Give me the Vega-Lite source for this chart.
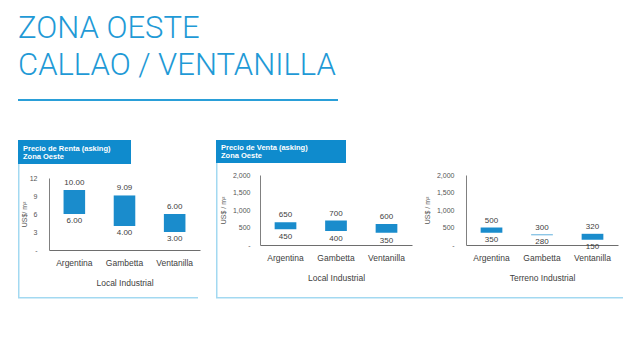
{
  "$schema": "https://vega.github.io/schema/vega-lite/v6.json",
  "padding": {"left": 18, "top": 13, "right": 5, "bottom": 5},
  "background": "white",
  "config": {
    "font": "Liberation Sans",
    "view": {"stroke": null},
    "axis": {"ticks": false, "tickSize": 0, "grid": false, "labelOverlap": false, "domainColor": "#808080", "labelFont": "Liberation Sans", "titleFont": "Liberation Sans", "titleFontWeight": "normal"}
  },
  "datasets": {
    "renta": [
      {"zona": "Argentina", "bajo": 6, "alto": 10},
      {"zona": "Gambetta", "bajo": 4, "alto": 9.09},
      {"zona": "Ventanilla", "bajo": 3, "alto": 6}
    ],
    "venta": [
      {"zona": "Argentina", "bajo": 450, "alto": 650},
      {"zona": "Gambetta", "bajo": 400, "alto": 700},
      {"zona": "Ventanilla", "bajo": 350, "alto": 600}
    ],
    "terreno": [
      {"zona": "Argentina", "bajo": 350, "alto": 500},
      {"zona": "Gambetta", "bajo": 280, "alto": 300},
      {"zona": "Ventanilla", "bajo": 150, "alto": 320}
    ]
  },
  "title": {
    "text": ["ZONA OESTE", "CALLAO / VENTANILLA"],
    "anchor": "start",
    "font": "Roboto",
    "fontWeight": 300,
    "fontSize": 31,
    "lineHeight": 37,
    "color": "#1f9ad6",
    "offset": 17
  },
  "spacing": 39,
  "vconcat": [
    {
      "width": 320, "height": 2,
      "data": {"values": []},
      "mark": "rect",
      "view": {"fill": "#2a9fd8", "stroke": null}
    },
    {
      "spacing": 16,
      "hconcat": [
        {
          "spacing": 0,
          "vconcat": [
            {
              "width": 113, "height": 24,
              "data": {"values": []},
              "mark": "rect",
              "view": {"fill": "#0f8bcd", "stroke": null},
              "title": {"text": ["Precio de Renta (asking)", "Zona Oeste"], "anchor": "start", "orient": "top", "baseline": "bottom", "offset": -28, "dx": 5, "color": "white", "fontSize": 7.5, "fontWeight": "bold", "lineHeight": 7.5, "font": "Liberation Sans"}
            },
            {
              "spacing": 0,
              "hconcat": [
                {
                  "width": 1.5, "height": 133,
                  "data": {"values": []},
                  "mark": "rect",
                  "view": {"fill": "#a3d9f1", "stroke": null}
                },
                {
                  "spacing": 0,
                  "vconcat": [
                    {
                      "width": 1, "height": 10,
                      "data": {"values": []},
                      "mark": "rect"
                    },
                    {
                      "width": 151, "height": 72,
                      "data": {"name": "renta"},
                      "resolve": {"axis": {"y": "independent"}},
                      "encoding": {
                        "x": {"field": "zona", "type": "nominal", "sort": null,
                          "scale": {"paddingInner": 0.57, "paddingOuter": 0.29},
                          "axis": {"title": "Local Industrial", "labelAngle": 0, "labelPadding": 8, "titlePadding": 12, "labelFontSize": 8.5, "titleFontSize": 8.5, "labelColor": "#404040", "titleColor": "#404040", "domainColor": "#6e6e6e"}}
                      },
                      "layer": [
                        {
                          "mark": {"type": "bar", "color": "#1a8ccc"},
                          "encoding": {
                            "y": {"field": "bajo", "type": "quantitative", "scale": {"domain": [0, 12], "nice": false},
                              "axis": {"title": "US$/ m²", "values": [0, 3, 6, 9, 12], "labelExpr": "datum.value == 0 ? '-' : datum.label", "labelOverlap": false, "labelPadding": 12, "titlePadding": 2, "labelFontSize": 7, "titleFontSize": 7, "labelColor": "#555555", "titleColor": "#555555"}},
                            "y2": {"field": "alto"}
                          }
                        },
                        {
                          "mark": {"type": "text", "baseline": "bottom", "dy": -3, "fontSize": 8, "color": "#404040"},
                          "encoding": {"y": {"field": "alto", "type": "quantitative", "axis": null}, "text": {"field": "alto", "format": ".2f"}}
                        },
                        {
                          "mark": {"type": "text", "baseline": "top", "dy": 3, "fontSize": 8, "color": "#404040"},
                          "encoding": {"y": {"field": "bajo", "type": "quantitative", "axis": null}, "text": {"field": "bajo", "format": ".2f"}}
                        }
                      ]
                    }
                  ]
                }
              ]
            },
            {
              "width": 180, "height": 1.5,
              "data": {"values": []},
              "mark": "rect",
              "view": {"fill": "#a3d9f1", "stroke": null}
            }
          ]
        },
        {
          "spacing": 0,
          "vconcat": [
            {
              "width": 130, "height": 23,
              "data": {"values": []},
              "mark": "rect",
              "view": {"fill": "#0f8bcd", "stroke": null},
              "title": {"text": ["Precio de Venta (asking)", "Zona Oeste"], "anchor": "start", "orient": "top", "baseline": "bottom", "offset": -27, "dx": 5, "color": "white", "fontSize": 7.5, "fontWeight": "bold", "lineHeight": 7.5, "font": "Liberation Sans"}
            },
            {
              "spacing": 1,
              "hconcat": [
                {
                  "width": 1.5, "height": 134,
                  "data": {"values": []},
                  "mark": "rect",
                  "view": {"fill": "#a3d9f1", "stroke": null}
                },
                {
                  "spacing": 0,
                  "vconcat": [
                    {
                      "width": 1, "height": 7.5,
                      "data": {"values": []},
                      "mark": "rect"
                    },
                    {
                      "spacing": 11,
                      "hconcat": [
                        {
                          "width": 152, "height": 70,
                          "data": {"name": "venta"},
                          "resolve": {"axis": {"y": "independent"}},
                          "encoding": {
                            "x": {"field": "zona", "type": "nominal", "sort": null,
                              "scale": {"paddingInner": 0.57, "paddingOuter": 0.29},
                              "axis": {"title": "Local Industrial", "labelAngle": 0, "labelPadding": 8, "titlePadding": 12, "labelFontSize": 8.5, "titleFontSize": 8.5, "labelColor": "#404040", "titleColor": "#404040", "domainColor": "#6e6e6e"}}
                          },
                          "layer": [
                            {
                              "mark": {"type": "bar", "color": "#1a8ccc"},
                              "encoding": {
                                "y": {"field": "bajo", "type": "quantitative", "scale": {"domain": [0, 2000], "nice": false},
                                  "axis": {"title": "US$ / m²", "values": [0, 500, 1000, 1500, 2000], "format": ",d", "labelExpr": "datum.value == 0 ? '-' : datum.label", "labelOverlap": false, "labelPadding": 10, "titlePadding": 6, "labelFontSize": 7, "titleFontSize": 7, "labelColor": "#555555", "titleColor": "#555555"}},
                                "y2": {"field": "alto"}
                              }
                            },
                            {
                              "mark": {"type": "text", "baseline": "bottom", "dy": -3, "fontSize": 8, "color": "#404040"},
                              "encoding": {"y": {"field": "alto", "type": "quantitative", "axis": null}, "text": {"field": "alto", "format": "d"}}
                            },
                            {
                              "mark": {"type": "text", "baseline": "top", "dy": 4, "fontSize": 8, "color": "#404040"},
                              "encoding": {"y": {"field": "bajo", "type": "quantitative", "axis": null}, "text": {"field": "bajo", "format": "d"}}
                            }
                          ]
                        },
                        {
                          "width": 152, "height": 70,
                          "data": {"name": "terreno"},
                          "resolve": {"axis": {"y": "independent"}},
                          "encoding": {
                            "x": {"field": "zona", "type": "nominal", "sort": null,
                              "scale": {"paddingInner": 0.57, "paddingOuter": 0.29},
                              "axis": {"title": "Terreno Industrial", "labelAngle": 0, "labelPadding": 8, "titlePadding": 12, "labelFontSize": 8.5, "titleFontSize": 8.5, "labelColor": "#404040", "titleColor": "#404040", "domainColor": "#6e6e6e"}}
                          },
                          "layer": [
                            {
                              "mark": {"type": "bar", "color": "#1a8ccc"},
                              "encoding": {
                                "y": {"field": "bajo", "type": "quantitative", "scale": {"domain": [0, 2000], "nice": false},
                                  "axis": {"title": "US$ / m²", "values": [0, 500, 1000, 1500, 2000], "format": ",d", "labelExpr": "datum.value == 0 ? '-' : datum.label", "labelOverlap": false, "labelPadding": 12, "titlePadding": 6, "labelFontSize": 7, "titleFontSize": 7, "labelColor": "#555555", "titleColor": "#555555"}},
                                "y2": {"field": "alto"}
                              }
                            },
                            {
                              "mark": {"type": "text", "baseline": "bottom", "dy": -3, "fontSize": 8, "color": "#404040"},
                              "encoding": {"y": {"field": "alto", "type": "quantitative", "axis": null}, "text": {"field": "alto", "format": "d"}}
                            },
                            {
                              "mark": {"type": "text", "baseline": "top", "dy": 3, "fontSize": 8, "color": "#404040"},
                              "encoding": {"y": {"field": "bajo", "type": "quantitative", "axis": null}, "text": {"field": "bajo", "format": "d"}}
                            }
                          ]
                        }
                      ]
                    }
                  ]
                }
              ]
            },
            {
              "width": 407, "height": 1.5,
              "data": {"values": []},
              "mark": "rect",
              "view": {"fill": "#a3d9f1", "stroke": null}
            }
          ]
        }
      ]
    }
  ]
}
